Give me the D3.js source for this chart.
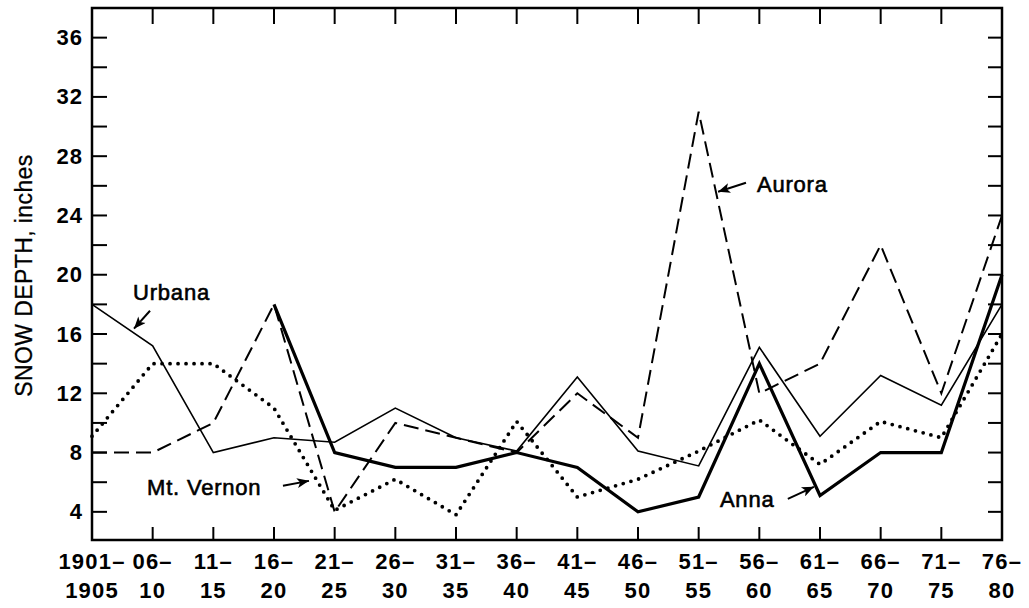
<!DOCTYPE html>
<html>
<head>
<meta charset="utf-8">
<script src="https://cdn.jsdelivr.net/npm/d3@7"></script>
<style>
  html, body { margin: 0; padding: 0; background: #fff; }
  svg { display: block; }
  text { font-family: "Liberation Sans", Arial, Helvetica, sans-serif; fill: #000; }
</style>
</head>
<body>
<svg id="chart" width="1029" height="608"></svg>
<script>
// ---- data ----
const categories = ["1901-1905","1906-10","1911-15","1916-20","1921-25","1926-30","1931-35","1936-40",
                    "1941-45","1946-50","1951-55","1956-60","1961-65","1966-70","1971-75","1976-80"];
const tickTop    = ["1901–","06–","11–","16–","21–","26–","31–","36–","41–","46–","51–","56–","61–","66–","71–","76–"];
const tickBottom = ["1905","10","15","20","25","30","35","40","45","50","55","60","65","70","75","80"];
const yTickValues = [4, 8, 12, 16, 20, 24, 28, 32, 36];

const urbana   = [18, 15.2, 8, 9, 8.7, 11, 9, 8.1, 13.1, 8.1, 7.1, 15.1, 9.1, 13.2, 11.2, 18];
const aurora   = [8, 8, 10, 18, 4, 10, 9, 8, 12, 9, 31, 12, 14, 22, 12, 24];
const mtVernon = [9.1, 14, 14, 11, 4.1, 6.2, 3.8, 10.1, 5, 6.2, 8.1, 10.2, 7.2, 10.1, 9, 16];
const anna     = [null, null, null, 18, 8, 7, 7, 8, 7, 4, 5, 14, 5.1, 8, 8, 20];

// ---- layout ----
const L = 92, R = 1002, T = 8, B = 540;
const svg = d3.select("#chart");

const x = d3.scalePoint().domain(categories).range([L, R]);
const y = d3.scaleLinear().domain([2.1, 38]).range([B, T]);
const xf = i => L + i * x.step();

// frame
svg.append("rect").attr("x", L).attr("y", T).attr("width", R - L).attr("height", B - T)
  .attr("fill", "none").attr("stroke", "#000").attr("stroke-width", 2.5);

// inner ticks
const minor = d3.range(4, 37, 2);
const g = svg.append("g").attr("stroke", "#000").attr("stroke-width", 2);
minor.forEach(v => {
  g.append("line").attr("x1", L).attr("x2", L + 15).attr("y1", y(v)).attr("y2", y(v));
  g.append("line").attr("x1", R).attr("x2", R - 14).attr("y1", y(v)).attr("y2", y(v));
});
categories.forEach(c => {
  g.append("line").attr("x1", x(c)).attr("x2", x(c)).attr("y1", B).attr("y2", B - 13);
  g.append("line").attr("x1", x(c)).attr("x2", x(c)).attr("y1", T).attr("y2", T + 16);
});

// y axis labels
const yAxis = d3.axisLeft(y).tickValues(yTickValues).tickSize(0).tickPadding(0);
const ya = svg.append("g").attr("transform", `translate(${L - 9},0)`).call(yAxis);
ya.select(".domain").remove();
ya.selectAll("text").attr("font-size", 22).attr("font-weight", "bold")
  .attr("letter-spacing", 1).attr("fill", "#000")
  .attr("font-family", "'Liberation Sans', Arial, sans-serif");

// x axis labels (two lines)
const xl = svg.append("g");
categories.forEach((c, i) => {
  xl.append("text").attr("x", x(c)).attr("y", 569).attr("text-anchor", "middle")
    .attr("font-size", 22).attr("font-weight", "bold").attr("letter-spacing", 1.2).text(tickTop[i]);
  xl.append("text").attr("x", x(c)).attr("y", 598).attr("text-anchor", "middle")
    .attr("font-size", 22).attr("font-weight", "bold").attr("letter-spacing", 1.2).text(tickBottom[i]);
});

// y title
svg.append("text").attr("transform", `translate(32,${(153 + 398) / 2}) rotate(-90)`)
  .attr("text-anchor", "middle").attr("font-size", 23).attr("letter-spacing", 0.4)
  .attr("stroke", "#000").attr("stroke-width", 0.3)
  .text("SNOW DEPTH, inches");

// lines
const line = d3.line().defined(d => d != null).x((d, i) => x(categories[i])).y(d => y(d));

const plot = svg.append("g");
plot.append("path").datum(mtVernon).attr("d", line).attr("fill", "none")
  .attr("stroke", "#000").attr("stroke-width", 3.8).attr("stroke-linecap", "round")
  .attr("stroke-linejoin", "round").attr("stroke-dasharray", "0,8");
plot.append("path").datum(aurora).attr("d", line).attr("fill", "none")
  .attr("stroke", "#000").attr("stroke-width", 2).attr("stroke-dasharray", "15,7");
plot.append("path").datum(urbana).attr("d", line).attr("fill", "none")
  .attr("stroke", "#000").attr("stroke-width", 1.6).attr("stroke-linejoin", "miter");
plot.append("path").datum(anna).attr("d", line).attr("fill", "none")
  .attr("stroke", "#000").attr("stroke-width", 3.2).attr("stroke-linejoin", "miter");

// annotations
svg.append("defs").append("marker").attr("id", "ah").attr("markerUnits", "userSpaceOnUse")
  .attr("viewBox", "0 0 12 10").attr("refX", 12).attr("refY", 5)
  .attr("markerWidth", 13).attr("markerHeight", 10).attr("orient", "auto")
  .append("path").attr("d", "M0,0 L12,5 L0,10 L3,5 Z").attr("fill", "#000");

const notes = [
  { label: "Urbana",     ti: 0.676, tv: 18.31, a0: [0.956, 17.57], a1: [0.692, 16.36] },
  { label: "Mt. Vernon", ti: 0.907, tv: 5.15,  a0: [3.148, 5.76],  a1: [3.577, 6.09] },
  { label: "Aurora",     ti: 10.96, tv: 25.6,  a0: [10.78, 26.21], a1: [10.32, 25.6] },
  { label: "Anna",       ti: 10.35, tv: 4.34,  a0: [11.47, 4.88],  a1: [11.90, 5.69] }
];
notes.forEach(n => {
  svg.append("text").attr("x", xf(n.ti)).attr("y", y(n.tv)).attr("font-size", 22)
    .attr("stroke", "#000").attr("stroke-width", 0.6).attr("letter-spacing", 0.8).text(n.label);
  svg.append("line").attr("x1", xf(n.a0[0])).attr("y1", y(n.a0[1]))
    .attr("x2", xf(n.a1[0])).attr("y2", y(n.a1[1]))
    .attr("stroke", "#000").attr("stroke-width", 2).attr("marker-end", "url(#ah)");
});
</script>
</body>
</html>
